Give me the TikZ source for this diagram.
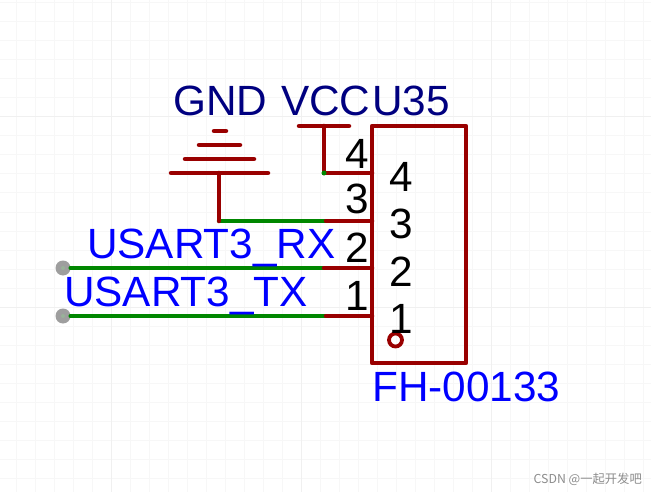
\documentclass[tikz,border=0pt]{standalone}
\usepackage{fontspec}
\setmainfont{Liberation Sans}
\newfontfamily\cjkfont{Noto Sans CJK SC}
\newlength{\du}
\setlength{\du}{1pt}
\definecolor{pinred}{rgb}{0.600000, 0.000000, 0.000000}
\definecolor{wiregreen}{rgb}{0.000000, 0.530000, 0.000000}
\definecolor{netnavy}{rgb}{0.000000, 0.000000, 0.500000}
\definecolor{labelblue}{rgb}{0.000000, 0.000000, 1.000000}
\tikzset{
  minorgrid/.style={draw=black!3,line width=1\du},
  majorgrid/.style={draw=black!6,line width=1\du},
  pinline/.style={draw=pinred,line width=4.5\du,line cap=round},
  wireline/.style={draw=wiregreen,line width=4.5\du,line cap=round},
  bodybox/.style={draw=pinred,line width=4.8\du,inner sep=0pt,minimum width=94\du,minimum height=237\du,line join=round},
  schtext/.style={anchor=base west,inner sep=0pt,font=\fontsize{42.3\du}{42.3\du}\selectfont},
  nettext/.style={schtext,text=netnavy},
  labeltext/.style={schtext,text=labelblue},
  pintext/.style={schtext,text=black},
  endmark/.style={circle,fill=black!38,inner sep=0pt,minimum size=15\du},
  dotmark/.style={circle,fill=wiregreen,inner sep=0pt,minimum size=5\du},
  enddot/.style={circle,fill=wiregreen!45!black!40,inner sep=0pt,minimum size=4\du},
  firstpin/.style={circle,draw=pinred,line width=3.8\du,inner sep=0pt,minimum size=13\du}
}
\begin{document}
\begin{tikzpicture}
\pgftransformyscale{-1.000000}
\useasboundingbox (0\du,0\du) rectangle (651\du,492\du);
\fill[white] (0\du,0\du) rectangle (651\du,492\du);
% grid
\foreach \gx in {16,35,...,650} {\draw[minorgrid] (\gx\du,0\du)--(\gx\du,492\du);}
\foreach \gy in {3,22,...,491} {\draw[minorgrid] (0\du,\gy\du)--(651\du,\gy\du);}
\foreach \gx in {111,301,491} {\draw[majorgrid] (\gx\du,0\du)--(\gx\du,492\du);}
\foreach \gy in {117,307} {\draw[majorgrid] (0\du,\gy\du)--(651\du,\gy\du);}
% connector body
\node[bodybox] (body) at (419\du,244.5\du) {};
\coordinate (pin4) at (372\du,173\du);
\coordinate (pin3) at (372\du,221\du);
\coordinate (pin2) at (372\du,268\du);
\coordinate (pin1) at (372\du,316\du);
\coordinate (pin4end) at (324\du,173\du);
\coordinate (pin3end) at (326\du,221\du);
\coordinate (pin2end) at (324\du,268\du);
\coordinate (pin1end) at (326\du,316\du);
\node[firstpin] (pinmark) at (395.5\du,340\du) {};
% nets
\coordinate (gndtop) at (219\du,173\du);
\coordinate (gndwire) at (219\du,221\du);
\coordinate (vcctop) at (324\du,126\du);
\node[endmark] (rxend) at (63\du,268\du) {};
\node[endmark] (txend) at (63\du,316\du) {};
\draw[wireline] (gndwire)--(pin3end);
\draw[wireline] (rxend.east)--(pin2end);
\draw[wireline] (txend.east)--(pin1end);
\draw[pinline] (pin4)--(pin4end);
\draw[pinline] (pin3)--(pin3end);
\draw[pinline] (pin2)--(pin2end);
\draw[pinline] (pin1)--(pin1end);
\draw[pinline] (vcctop)--(pin4end);
\draw[pinline] (gndtop)--(gndwire);
\draw[pinline] (171\du,173\du)--(268\du,173\du);
\draw[pinline] (185\du,159\du)--(254\du,159\du);
\draw[pinline] (199\du,145\du)--(240\du,145\du);
\draw[pinline] (214\du,131\du)--(226\du,131\du);
\draw[pinline] (299\du,126\du)--(349\du,126\du);
\node[dotmark] (vccdot) at (pin4end) {};
\node[enddot] (rxdot) at (rxend) {};
\node[enddot] (txdot) at (txend) {};
% texts
\node[nettext] (gndlabel) at (173\du,116\du) {GND};
\node[nettext] (vcclabel) at (281\du,116\du) {VCC};
\node[nettext] (reflabel) at (372\du,116\du) {U35};
\node[labeltext] (rxlabel) at (87\du,258\du) {USART3\_RX};
\node[labeltext] (txlabel) at (64\du,306\du) {USART3\_TX};
\node[labeltext] (partlabel) at (372\du,401\du) {FH-00133};
\node[pintext] (outer4) at (345\du,168\du) {4};
\node[pintext] (outer3) at (345\du,214\du) {3};
\node[pintext] (outer2) at (345\du,262\du) {2};
\node[pintext] (outer1) at (345\du,310\du) {1};
\node[pintext] (inner4) at (389\du,192\du) {4};
\node[pintext] (inner3) at (389\du,238\du) {3};
\node[pintext] (inner2) at (389\du,286\du) {2};
\node[pintext] (inner1) at (389\du,333\du) {1};
\node[anchor=base east,inner sep=0pt,text=black!45,font=\fontsize{12.3\du}{12.3\du}\cjkfont] (mark) at (642\du,483\du) {CSDN @一起开发吧};
\end{tikzpicture}
\end{document}
